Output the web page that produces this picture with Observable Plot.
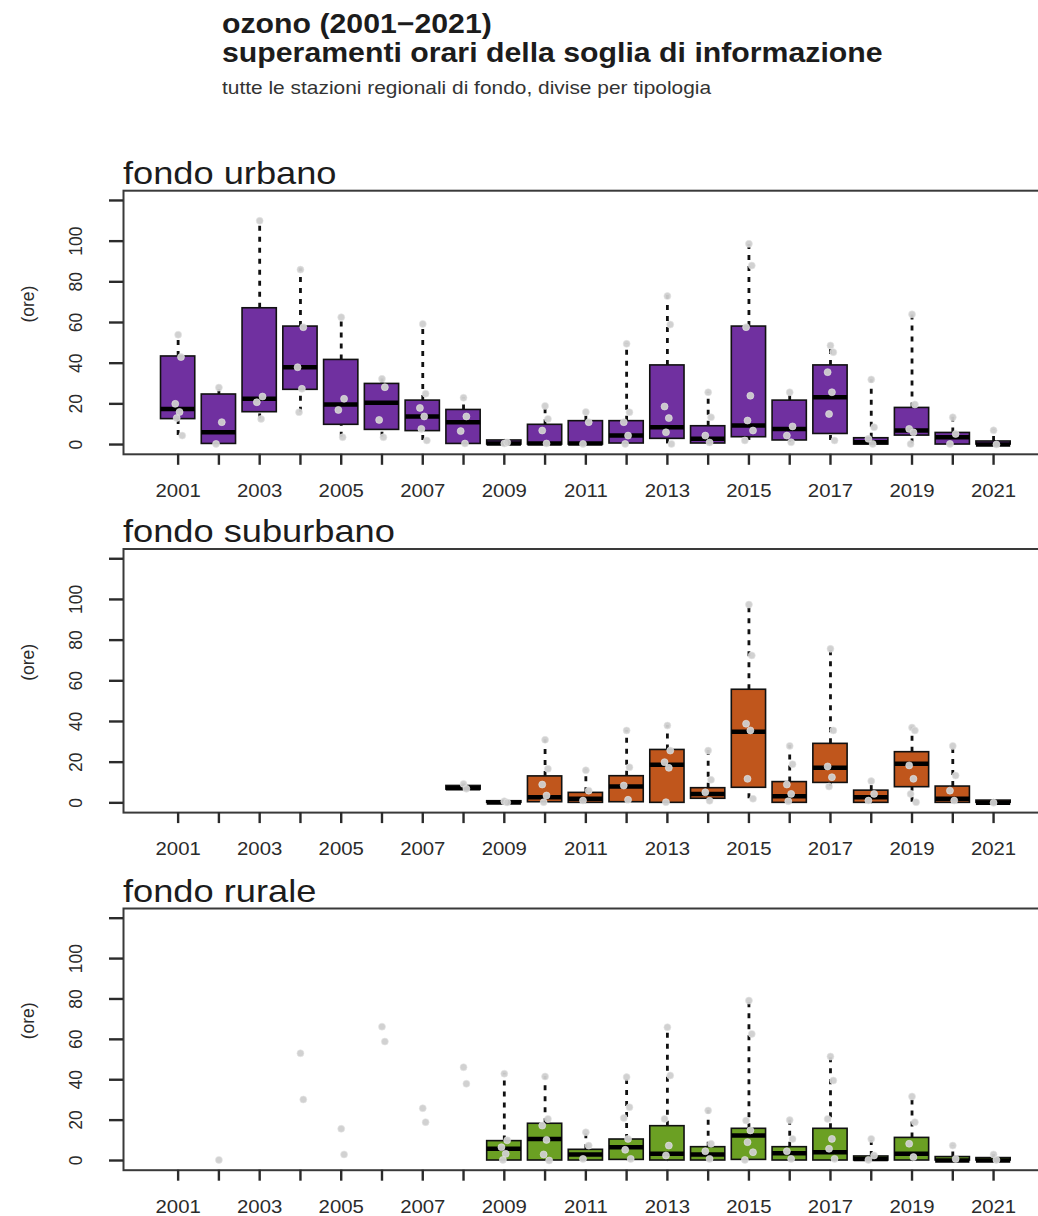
<!DOCTYPE html>
<html><head><meta charset="utf-8">
<script src="https://cdn.jsdelivr.net/npm/d3@7"></script>
<script src="https://cdn.jsdelivr.net/npm/@observablehq/plot@0.6"></script>
<style>
body{margin:0;background:#fff;}
#wrap{position:relative;width:1038px;height:1216px;overflow:hidden;background:#fff;font-family:"Liberation Sans",Arial,sans-serif;}
.t{position:absolute;white-space:nowrap;line-height:1;transform-origin:0 0;color:#1c1c1c;z-index:5;}
.panel{position:absolute;left:0;}
</style></head><body><div id="wrap"></div>
<script>
// ---------- dati ----------
const anni = [2001,2002,2003,2004,2005,2006,2007,2008,2009,2010,2011,2012,2013,2014,2015,2016,2017,2018,2019,2020,2021];
const etichetteAnni = ["2001","","2003","","2005","","2007","","2009","","2011","","2013","","2015","","2017","","2019","","2021"];
const yTicks = [0,20,40,60,80,100,120];
const yEtichette = ["0","20","40","60","80","100",""];

// [anno, baffo inf, q1, mediana, q3, baffo sup]
const urbanoBox = [
  [2001, 4.4, 12.5, 17.5, 43.3, 53.5],
  [2002, 0, 0.3, 6, 24.6, 28],
  [2003, 12.6, 15.9, 22.5, 67, 110],
  [2004, 15.9, 26.9, 38, 58, 86.4],
  [2005, 3.6, 9.7, 19.7, 41.6, 62.6],
  [2006, 3.6, 7.2, 20.5, 29.8, 32.3],
  [2007, 2, 6.6, 13.8, 21.6, 59.3],
  [2008, 0, 0.3, 11, 17, 23],
  [2009, 0, 0, 0.5, 2, 2],
  [2010, 0, 0, 0.5, 9.7, 19],
  [2011, 0, 0, 0.5, 11.5, 15.9],
  [2012, 0, 0.5, 4.4, 11.5, 49.5],
  [2013, 0.3, 2.8, 8.5, 38.9, 73.3],
  [2014, 0.3, 0.5, 2.8, 9, 25.7],
  [2015, 2, 3.6, 9.3, 58, 98.7],
  [2016, 1, 2, 7.7, 21.6, 25.7],
  [2017, 2, 5.2, 23.3, 38.9, 48.7],
  [2018, 0, 0, 1.1, 3.1, 31.8],
  [2019, 0.3, 4.4, 6.9, 18, 63.8],
  [2020, 0, 0, 3.6, 5.7, 13.4],
  [2021, 0, 0, 0, 1.5, 7.2]
];
const urbanoPunti = [
  [2001, [54, 43, 20, 16, 13, 4.4]],
  [2002, [28, 11, 0.3]],
  [2003, [110, 23.6, 20.8, 12.6]],
  [2004, [86, 57.7, 38, 27.4, 15.9]],
  [2005, [62.6, 22.5, 17, 3.6]],
  [2006, [32.3, 28.2, 12.1, 3.6]],
  [2007, [59.3, 25, 18, 13.8, 7.7, 2]],
  [2008, [23, 13.8, 6.6, 0.5]],
  [2009, [0.5, 1]],
  [2010, [19, 12.6, 6.9, 0.5]],
  [2011, [16, 11, 0.3]],
  [2012, [49.5, 15.9, 11, 4.4, 0.3]],
  [2013, [73, 59, 18.7, 13, 6, 0.3]],
  [2014, [25.7, 13.4, 4.4, 1]],
  [2015, [98.7, 88, 57.7, 24, 11.8, 6.9, 2]],
  [2016, [25.7, 8.9, 4.4, 1.1]],
  [2017, [48.7, 45.4, 35.6, 25.7, 15, 2]],
  [2018, [32, 8.5, 2.8, 0.3]],
  [2019, [64, 19.7, 7.7, 6, 0.3]],
  [2020, [13.4, 5.2, 0.3]],
  [2021, [7, 0]]
];

const suburbanoBox = [
  [2008, 6.5, 6.5, 7.2, 8.3, 9.3],
  [2009, 0, 0, 0.2, 0.8, 0.8],
  [2010, 0.3, 0.3, 2.8, 13, 31],
  [2011, 0, 0, 2, 4.9, 16.2],
  [2012, 0.3, 0.3, 8, 13.1, 35.6],
  [2013, 0, 0, 18.7, 26, 38],
  [2014, 1, 2, 4.4, 7.2, 25.7],
  [2015, 2, 7.4, 35, 55.6, 97.5],
  [2016, 0, 0, 3.3, 10.2, 28.2],
  [2017, 8, 9.8, 17.2, 29, 75.7],
  [2018, 0, 0, 2.8, 6, 10.7],
  [2019, 0.3, 7.7, 19.2, 24.9, 37.2],
  [2020, 0, 0, 2, 8, 28.2],
  [2021, 0, 0, 0, 1.1, 1.1]
];
const suburbanoPunti = [
  [2008, [9.3, 6.9]],
  [2009, [0.8, 0.2]],
  [2010, [31, 16.7, 9, 3.6, 0.3]],
  [2011, [16, 6, 1.1]],
  [2012, [35.6, 17.5, 8.5, 1.5]],
  [2013, [38, 25.7, 20, 17.2, 0.3]],
  [2014, [25.7, 11.3, 5.2, 1]],
  [2015, [97.5, 72.5, 38.9, 35.6, 11.8, 2]],
  [2016, [28, 19, 9, 4.4, 0.8]],
  [2017, [75.7, 35.6, 17.9, 12.6, 8]],
  [2018, [10.7, 4.4, 1.1]],
  [2019, [37, 35.6, 18.4, 11.8, 4.4, 0.3]],
  [2020, [28, 13.4, 6, 1.1]],
  [2021, [0]]
];

const ruraleBox = [
  [2009, 0, 0, 5.8, 9.6, 43.2],
  [2010, 0, 0, 10.7, 18.2, 41.6],
  [2011, 0, 0, 3, 5.3, 13.5],
  [2012, 0.3, 0.3, 6.6, 10.4, 41.3],
  [2013, 0, 0, 3.3, 17, 66],
  [2014, 0, 0, 3, 6.6, 24.8],
  [2015, 0.3, 0.3, 12.4, 15.7, 79.2],
  [2016, 0, 0, 3.6, 6.6, 20.1],
  [2017, 0, 0, 4.1, 15.7, 51.5],
  [2018, 0, 0, 0.8, 2, 10.7],
  [2019, 0, 0, 3.3, 11.2, 31.7],
  [2020, 0, 0, 0, 1.7, 7.4],
  [2021, 0, 0, 0, 1.2, 3]
];
const ruralePunti = [
  [2002, [0.3]],
  [2004, [53.1, 30.2]],
  [2005, [15.7, 3]],
  [2006, [66.3, 58.9]],
  [2007, [25.9, 19]],
  [2008, [46.2, 38]],
  [2009, [43, 10, 6.6, 3.3, 0.3]],
  [2010, [41.6, 20.6, 17.3, 10.2, 3, 0]],
  [2011, [14, 7.4, 0.8]],
  [2012, [41.3, 26.4, 21.1, 10.7, 5.3, 0.8]],
  [2013, [66, 42.1, 20.6, 7.4, 2.5]],
  [2014, [24.8, 8.3, 4.6, 0.8]],
  [2015, [79.2, 62.7, 19.8, 14.9, 9.1, 4.1, 0.3]],
  [2016, [20, 10.7, 4.6, 0.8]],
  [2017, [51.5, 39.6, 20.6, 10.7, 5.8, 0.8]],
  [2018, [10.7, 2.5, 0.3]],
  [2019, [31.7, 19, 8.3, 1.7]],
  [2020, [7.4, 0.8]],
  [2021, [3, 0.3]]
];

const titoli = ["ozono (2001\u22122021)", "superamenti orari della soglia di informazione", "tutte le stazioni regionali di fondo, divise per tipologia"];
const pannelli = ["fondo urbano", "fondo suburbano", "fondo rurale"];
const colori = ["#7030A0", "#C0561C", "#6BA023"];

// ---------- disegno ----------
const wrap = document.getElementById("wrap");
const FONT = '"Liberation Sans", Arial, sans-serif';
const HW = 0.42;               // mezza larghezza scatola (unità anno)
const JIT = [0, 0.07, -0.07, 0.035, -0.035, 0.1, -0.1];

function addText(txt, left, baseline, fs, opts = {}) {
  const d = document.createElement("div");
  d.className = "t";
  d.textContent = txt;
  d.style.left = left + "px";
  d.style.top = (baseline - 0.8465 * fs) + "px";
  d.style.fontSize = fs + "px";
  if (opts.bold) d.style.fontWeight = "bold";
  if (opts.color) d.style.color = opts.color;
  d.style.transform = `scaleX(${opts.sx || 1.1})`;
  wrap.appendChild(d);
}

function stretch(svg) {
  svg.querySelectorAll("text").forEach(t => {
    const tr = t.getAttribute("transform");
    if (!tr) return;
    t.setAttribute("transform", tr + (tr.includes("rotate") ? " scale(1,1.1)" : " scale(1.1,1)"));
  });
}

function panel(box, punti, color, top, height, mt, mb) {
  const rows = box.map(([anno, lo, q1, med, q3, hi]) => ({anno, lo, q1, med, q3, hi}));
  const pts = punti.flatMap(([anno, vals]) => vals.map((v, i) => ({anno, v, j: JIT[i % JIT.length]})));
  const svg = Plot.plot({
    width: 1038, height,
    marginTop: mt, marginBottom: mb, marginLeft: 123, marginRight: -9.7,
    x: {type: "linear", domain: [1999.66, 2022.34], axis: null},
    y: {domain: [-4.8, 124.8], axis: null},
    style: {fontFamily: FONT, background: "transparent", color: "#2b2b2b", overflow: "hidden"},
    marks: [
      Plot.ruleX(rows, {x: "anno", y1: "q3", y2: "hi", stroke: "#111", strokeWidth: 2.8, strokeDasharray: "5,6"}),
      Plot.ruleX(rows, {x: "anno", y1: "lo", y2: "q1", stroke: "#111", strokeWidth: 2.8, strokeDasharray: "5,6"}),
      Plot.rect(rows, {x1: d => d.anno - HW, x2: d => d.anno + HW, y1: "q1", y2: "q3", fill: color, stroke: "#111", strokeWidth: 1.6}),
      Plot.ruleY(rows, {y: "med", x1: d => d.anno - HW, x2: d => d.anno + HW, stroke: "#000", strokeWidth: 4.5}),
      Plot.dot(pts, {x: d => d.anno + d.j, y: "v", r: 3.5, fill: "#cfcfcf", fillOpacity: 0.95, stroke: "#e6e6e6", strokeWidth: 0.6}),
      Plot.frame({stroke: "#3a3a3a", strokeWidth: 2}),
      Plot.axisX({ticks: anni, tickFormat: d => etichetteAnni[anni.indexOf(d)], label: null, tickSize: 11, tickPadding: 18.7, fontSize: 18.5, strokeWidth: 2.4, color: "#2b2b2b"}),
      Plot.axisY({ticks: yTicks, tickFormat: d => yEtichette[yTicks.indexOf(d)], label: null, tickSize: 14, tickRotate: -90, tickPadding: 28, fontSize: 17.5, strokeWidth: 2.4, color: "#2b2b2b"}),
      Plot.text(["(ore)"], {frameAnchor: "left", dx: -96, rotate: -90, fontSize: 17.5, fill: "#2b2b2b"})
    ]
  });
  stretch(svg);
  svg.classList.add("panel");
  svg.style.top = top + "px";
  wrap.appendChild(svg);
}

panel(urbanoBox, urbanoPunti, colori[0], 150, 360, 40.2, 56.2);
panel(suburbanoBox, suburbanoPunti, colori[1], 510, 360, 38.5, 57.9);
panel(ruraleBox, ruralePunti, colori[2], 870, 346, 38, 46.3);

addText(titoli[0], 222, 33, 27.5, {bold: true});
addText(titoli[1], 222, 62, 27.5, {bold: true});
addText(titoli[2], 222, 94, 19, {color: "#333"});
addText(pannelli[0], 123, 184.7, 31.5, {sx: 1.15});
addText(pannelli[1], 123, 543, 31.5, {sx: 1.15});
addText(pannelli[2], 123, 902.5, 31.5, {sx: 1.15});
</script></body></html>
